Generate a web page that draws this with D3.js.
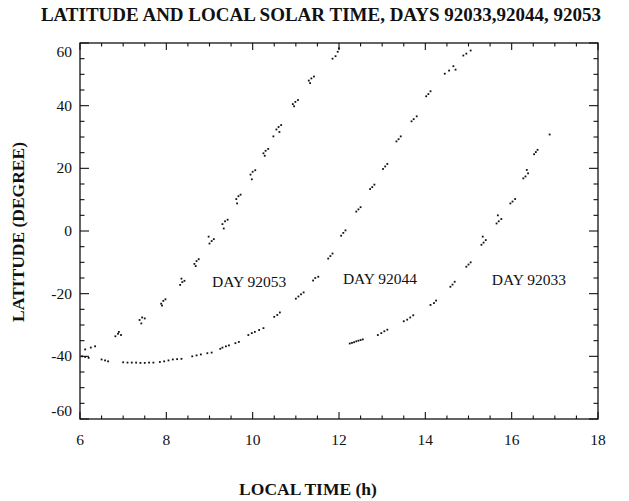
<!DOCTYPE html>
<html>
<head>
<meta charset="utf-8">
<script src="https://cdn.jsdelivr.net/npm/d3@7"></script>
<style>
  body { margin: 0; background: #fff; }
  svg { display: block; font-family: "Liberation Serif", "Times New Roman", serif; }
  .tick-label { font-size: 15.5px; fill: #111; }
  .axis-title { font-size: 17.5px; font-weight: bold; fill: #111; }
  .day-label { font-size: 15.5px; fill: #111; }
</style>
</head>
<body>
<div id="chart"></div>
<script>
// local time (h), latitude (deg)
const day92053 = [
  [6.12, -37.8], [6.25, -37.2], [6.35, -36.8],
  [6.82, -33.6], [6.88, -32.8], [6.95, -33.2], [6.9, -32.2],
  [7.38, -28.4], [7.44, -27.6], [7.5, -27.9], [7.42, -29.5],
  [7.88, -23.2], [7.93, -22.3], [7.98, -21.8], [7.9, -23.8],
  [8.32, -17.2], [8.37, -16.3], [8.42, -15.9], [8.35, -15.2],
  [8.65, -10.5], [8.7, -9.6], [8.75, -9.0], [8.68, -11.2],
  [9.0, -4.0], [9.05, -3.2], [9.1, -2.6], [8.98, -1.8],
  [9.3, 2.2], [9.36, 3.1], [9.42, 3.6], [9.33, 0.8],
  [9.62, 10.2], [9.67, 11.1], [9.72, 11.6], [9.64, 8.8],
  [9.95, 18.0], [10.0, 18.9], [10.06, 19.4], [9.98, 16.5],
  [10.25, 24.8], [10.3, 25.6], [10.36, 26.2], [10.28, 24.0],
  [10.55, 32.4], [10.6, 33.2], [10.66, 33.8], [10.62, 31.6], [10.48, 30.2],
  [10.93, 40.5], [10.99, 41.2], [11.05, 41.8], [10.96, 39.8],
  [11.3, 48.0], [11.36, 48.7], [11.42, 49.3], [11.33, 47.2],
  [11.85, 55.0], [11.92, 55.8], [11.97, 57.2], [12.0, 58.3]
];

const day92044 = [
  [6.05, -40.0], [6.12, -40.2], [6.2, -40.5],
  [6.5, -41.0], [6.58, -41.3], [6.65, -41.6],
  [7.0, -41.9], [7.1, -42.0], [7.2, -42.0], [7.3, -42.0], [7.4, -42.1],
  [7.5, -42.1], [7.6, -42.0], [7.7, -42.0],
  [7.85, -41.8], [7.95, -41.6], [8.05, -41.3], [8.15, -41.0], [8.25, -40.9], [8.35, -40.8],
  [8.6, -40.0], [8.7, -39.7], [8.8, -39.4], [8.95, -39.0], [9.05, -38.8],
  [9.25, -37.6], [9.3, -37.2], [9.38, -36.8], [9.45, -36.5],
  [9.6, -35.8], [9.68, -35.4],
  [9.9, -33.2], [9.98, -32.6], [10.05, -32.2], [10.15, -31.6], [10.25, -31.0],
  [10.5, -27.4], [10.57, -26.8], [10.63, -26.0],
  [11.0, -21.6], [11.06, -20.9], [11.12, -20.2], [11.18, -19.6],
  [11.4, -15.8], [11.45, -15.0], [11.52, -14.6],
  [11.75, -8.8], [11.8, -8.0], [11.85, -7.2],
  [12.05, -1.5], [12.1, -0.6], [12.15, 0.2],
  [12.4, 6.2], [12.45, 6.9], [12.5, 7.6],
  [12.72, 13.4], [12.77, 14.0], [12.82, 14.8],
  [13.02, 19.8], [13.07, 20.6], [13.12, 21.4],
  [13.33, 28.6], [13.38, 29.3], [13.43, 30.2],
  [13.68, 35.0], [13.73, 35.7], [13.8, 36.6],
  [14.02, 43.0], [14.07, 43.7], [14.12, 44.6],
  [14.45, 50.2], [14.55, 51.2], [14.65, 52.6], [14.7, 51.5],
  [14.88, 56.0], [14.95, 56.6], [15.05, 57.6]
];

const day92033 = [
  [12.25, -35.9], [12.3, -35.7], [12.35, -35.5], [12.4, -35.2],
  [12.45, -35.0], [12.5, -34.8], [12.55, -34.6],
  [12.9, -33.2], [12.98, -32.6], [13.05, -32.0], [13.12, -31.5],
  [13.5, -28.8], [13.58, -28.3], [13.65, -27.6], [13.72, -26.9],
  [14.12, -23.6], [14.2, -23.0], [14.25, -22.2],
  [14.58, -17.8], [14.63, -17.1], [14.68, -16.2],
  [14.95, -11.4], [15.0, -10.7], [15.05, -10.0],
  [15.3, -4.4], [15.35, -3.7], [15.4, -2.9], [15.33, -1.8],
  [15.65, 2.4], [15.7, 3.1], [15.76, 3.8], [15.68, 5.0],
  [15.97, 8.8], [16.02, 9.4], [16.08, 10.2],
  [16.27, 16.8], [16.32, 17.4], [16.38, 18.4], [16.35, 19.5],
  [16.52, 24.5], [16.56, 25.2], [16.6, 25.9],
  [16.88, 30.8]
];

const xTicks = [6, 8, 10, 12, 14, 16, 18];
const yTicks = [-60, -40, -20, 0, 20, 40, 60];

// label name, local time, latitude of its baseline centre
const dayLabels = [
  ["DAY 92053", 9.92, -18],
  ["DAY 92044", 12.95, -17],
  ["DAY 92033", 16.4, -17.3]
];

const width = 629, height = 501;
const margin = { top: 43, right: 31, bottom: 82, left: 80 };

const svg = d3.select("#chart")
  .append("svg")
  .attr("width", width)
  .attr("height", height);

const x = d3.scaleLinear().domain([6, 18]).range([margin.left, width - margin.right]);
const y = d3.scaleLinear().domain([-60, 60]).range([height - margin.bottom, margin.top]);

// frame
svg.append("rect")
  .attr("x", x(6)).attr("y", y(60))
  .attr("width", x(18) - x(6)).attr("height", y(-60) - y(60))
  .attr("fill", "none").attr("stroke", "#111").attr("stroke-width", 1.3);

// inward ticks on all four sides
const xMinor = d3.range(6, 18.01, 0.5);
const yMinor = d3.range(-60, 60.01, 5);
const isMajorX = v => Math.abs(v % 2) < 1e-6;
const isMajorY = v => Math.abs(v % 20) < 1e-6;

const ticks = svg.append("g").attr("stroke", "#111").attr("stroke-width", 1.1);
xMinor.forEach(v => {
  const len = isMajorX(v) ? 7 : 3.5;
  ticks.append("line").attr("x1", x(v)).attr("x2", x(v)).attr("y1", y(-60)).attr("y2", y(-60) - len);
  ticks.append("line").attr("x1", x(v)).attr("x2", x(v)).attr("y1", y(60)).attr("y2", y(60) + len);
});
yMinor.forEach(v => {
  const len = isMajorY(v) ? 9 : 4.5;
  ticks.append("line").attr("y1", y(v)).attr("y2", y(v)).attr("x1", x(6)).attr("x2", x(6) + len);
  ticks.append("line").attr("y1", y(v)).attr("y2", y(v)).attr("x1", x(18)).attr("x2", x(18) - len);
});

// tick labels
svg.append("g").selectAll("text")
  .data(xTicks)
  .join("text")
  .attr("class", "tick-label")
  .attr("x", d => x(d))
  .attr("y", y(-60) + 26)
  .attr("text-anchor", "middle")
  .text(d => d);

svg.append("g").selectAll("text")
  .data(yTicks)
  .join("text")
  .attr("class", "tick-label")
  .attr("x", x(6) - 8)
  .attr("y", d => y(d) + 5 + (d === 60 ? 9 : d === -60 ? -8 : 0))
  .attr("text-anchor", "end")
  .text(d => d);

// points
const series = [day92053, day92044, day92033];
series.forEach(s => {
  svg.append("g").selectAll("rect")
    .data(s)
    .join("rect")
    .attr("x", d => x(d[0]) - 0.9)
    .attr("y", d => y(d[1]) - 0.9)
    .attr("width", 1.8)
    .attr("height", 1.8)
    .attr("fill", "#111");
});

// day labels
svg.append("g").selectAll("text")
  .data(dayLabels)
  .join("text")
  .attr("class", "day-label")
  .attr("x", d => x(d[1]))
  .attr("y", d => y(d[2]))
  .attr("text-anchor", "middle")
  .text(d => d[0]);

// titles
svg.append("text")
  .attr("x", 321).attr("y", 21)
  .attr("text-anchor", "middle")
  .attr("font-size", 19).attr("font-weight", "bold").attr("fill", "#111")
  .text("LATITUDE AND LOCAL SOLAR TIME, DAYS 92033,92044, 92053");

svg.append("text")
  .attr("class", "axis-title")
  .attr("x", 308).attr("y", 495)
  .attr("text-anchor", "middle")
  .text("LOCAL TIME (h)");

svg.append("text")
  .attr("class", "axis-title")
  .attr("transform", "translate(24,232) rotate(-90)")
  .attr("text-anchor", "middle")
  .text("LATITUDE (DEGREE)");
</script>
</body>
</html>
